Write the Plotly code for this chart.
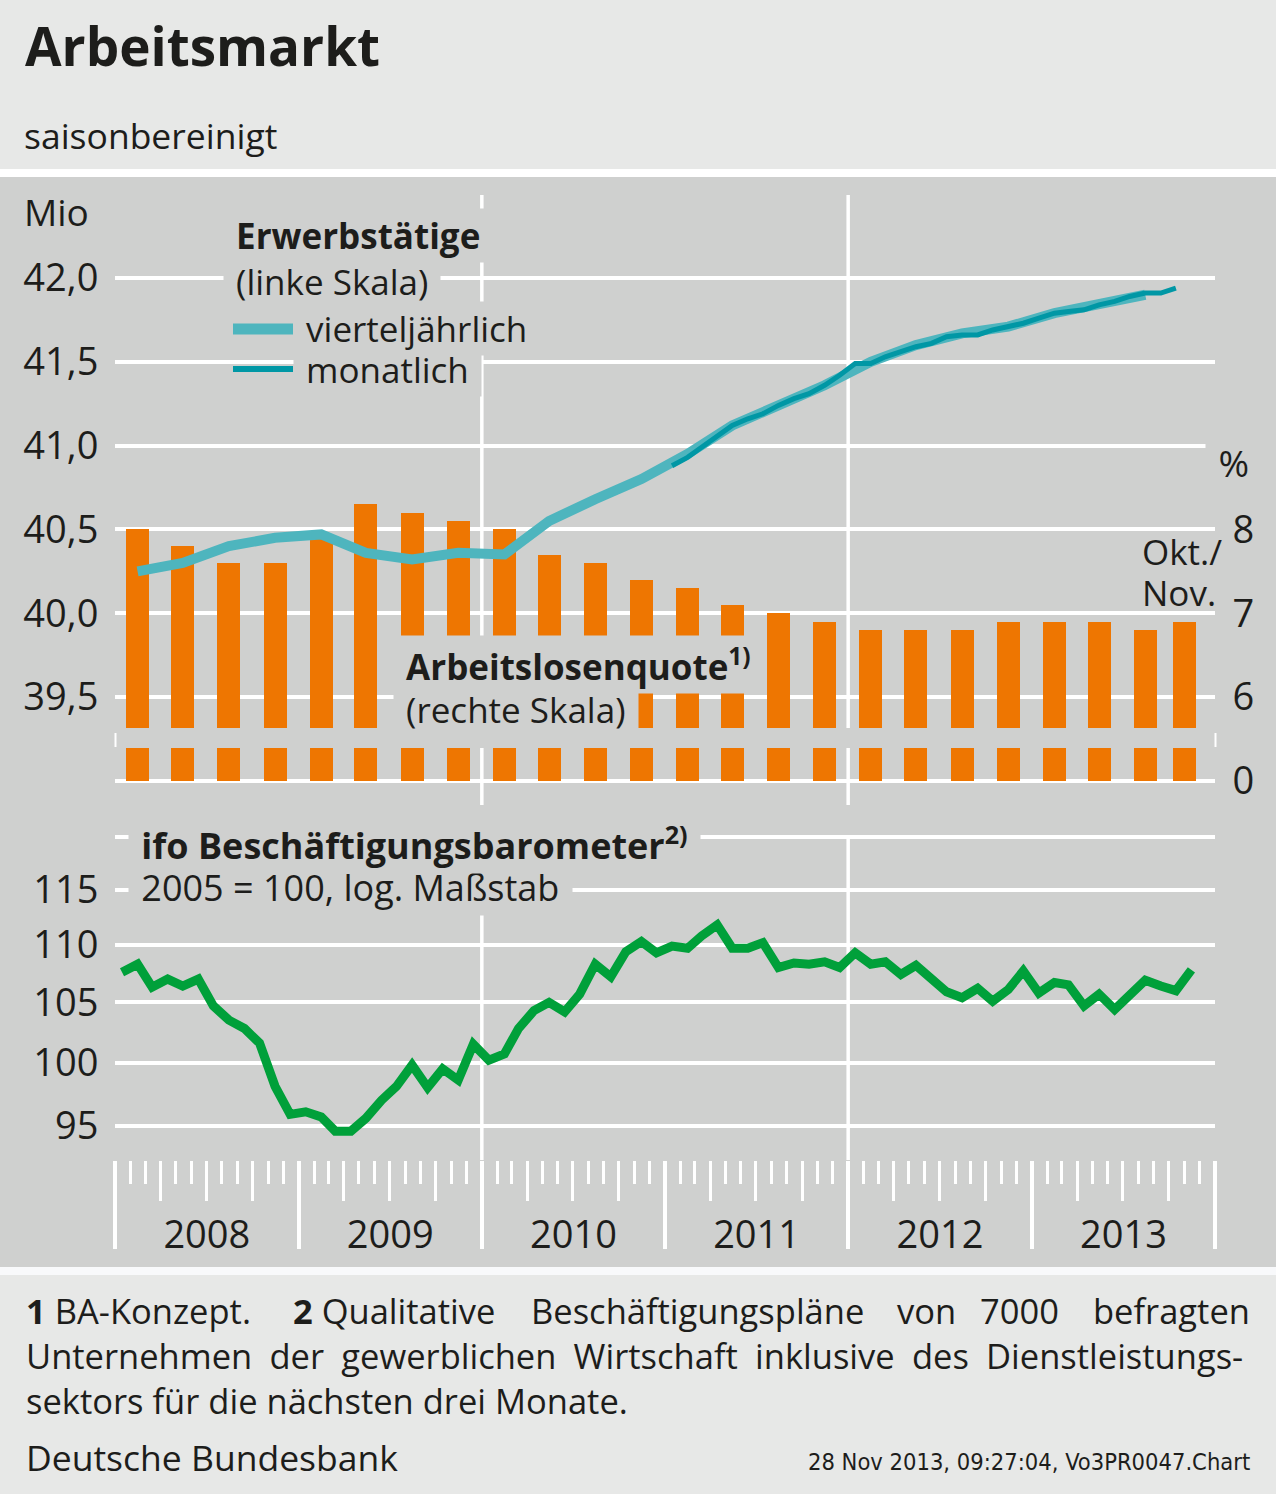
import math
import plotly.graph_objects as go

W, H = 1276, 1494
FONT = "Open Sans, Noto Sans, DejaVu Sans, sans-serif"
NARROW = "Liberation Sans Narrow, DejaVu Sans Condensed, Open Sans, sans-serif"
TXT = "#1d1d1b"
PANEL = "#cfd0cf"
HEAD = "#e7e8e7"
ORANGE = "#ee7601"
TEAL_Q = "#4eb5be"
TEAL_M = "#0097a5"
GREEN = "#00a03a"

def fx(p):
    return p / W

def fy(p):
    return 1 - p / H

# ---------------- data ----------------
quarter_dates = [f"{y}-{m:02d}-15" for y in range(2008, 2014) for m in (2, 5, 8, 11)][:23]
bar_dates = quarter_dates + ["2013-11-01"]          # last bar: Okt./Nov. 2013
alq = [8.0, 7.8, 7.6, 7.6, 7.9, 8.3, 8.2, 8.1,
       8.0, 7.7, 7.6, 7.4, 7.3, 7.1, 7.0, 6.9,
       6.8, 6.8, 6.8, 6.9, 6.9, 6.9, 6.8, 6.9]     # Arbeitslosenquote, %

erw_q = [40.25, 40.30, 40.40, 40.45, 40.47, 40.36, 40.32, 40.36,
         40.35, 40.55, 40.68, 40.80, 40.95, 41.12, 41.24, 41.36,
         41.50, 41.60, 41.67, 41.71, 41.79, 41.84, 41.90]   # Mio, quarterly

erw_m_dates = [f"{y}-{m:02d}-15" for y in range(2011, 2014) for m in range(1, 13)][:34]
erw_m = [40.88, 40.93, 40.99, 41.06, 41.12, 41.16, 41.19, 41.24, 41.28, 41.31, 41.36, 41.42,
         41.49, 41.49, 41.53, 41.56, 41.59, 41.61, 41.65, 41.66, 41.66, 41.69, 41.71, 41.73,
         41.76, 41.79, 41.80, 41.81, 41.84, 41.86, 41.89, 41.91, 41.91, 41.94]

ifo_dates = [f"{y}-{m:02d}-15" for y in range(2008, 2014) for m in range(1, 13)][:71]
ifo = [107.6, 108.3, 106.3, 107.0, 106.4, 107.0, 104.7, 103.5, 102.8, 101.6, 98.1, 95.9,
       96.1, 95.7, 94.6, 94.6, 95.6, 97.0, 98.1, 99.8, 98.0, 99.5, 98.6, 101.5,
       100.2, 100.7, 102.8, 104.3, 105.0, 104.2, 105.7, 108.3, 107.2, 109.4, 110.3, 109.3,
       109.9, 109.7, 110.8, 111.8, 109.7, 109.7, 110.2, 108.0, 108.4, 108.3, 108.5, 108.0,
       109.3, 108.3, 108.5, 107.4, 108.2, 107.0, 105.9, 105.4, 106.2, 105.1, 106.1, 107.7,
       105.8, 106.7, 106.5, 104.7, 105.7, 104.4, 105.7, 106.9, 106.4, 106.0, 107.8]

erw_ticks = [39.0, 39.5, 40.0, 40.5, 41.0, 41.5, 42.0]
erw_ticktext = ["", "39,5", "40,0", "40,5", "41,0", "41,5", "42,0"]
alq_ticks = [0, 6, 7, 8]
ALQ_BREAK = 5            # axis break: values >= 6 are shown shifted down by 5
ifo_ticks = [95, 100, 105, 110, 115, 120]
ifo_ticktext = ["95", "100", "105", "110", "115", ""]
vlines = ["2010-01-01", "2012-01-01"]

alq_disp = [v - ALQ_BREAK for v in alq]
alq_tickvals = [t - ALQ_BREAK if t else 0 for t in alq_ticks]

X_RANGE = ["2008-01-01", "2014-01-01"]
X_DOM = [fx(115), fx(1215)]
DAY_MS = 86400000
BAR_W = 45.8 * DAY_MS

fig = go.Figure()

fig.add_trace(go.Bar(x=bar_dates, y=alq_disp, base=0, width=BAR_W,
                     marker=dict(color=ORANGE, line=dict(width=0)),
                     xaxis="x", yaxis="y", showlegend=False, hoverinfo="skip"))
fig.add_trace(go.Scatter(x=quarter_dates, y=erw_q, mode="lines",
                         line=dict(color=TEAL_Q, width=10),
                         xaxis="x", yaxis="y2", showlegend=False, hoverinfo="skip"))
fig.add_trace(go.Scatter(x=erw_m_dates, y=erw_m, mode="lines",
                         line=dict(color=TEAL_M, width=5),
                         xaxis="x", yaxis="y2", showlegend=False, hoverinfo="skip"))
fig.add_trace(go.Scatter(x=ifo_dates, y=ifo, mode="lines",
                         line=dict(color=GREEN, width=9),
                         xaxis="x3", yaxis="y3", showlegend=False, hoverinfo="skip"))
for xa in ("x4", "x5"):
    fig.add_trace(go.Scatter(x=[], y=[], xaxis=xa, yaxis="y3", showlegend=False, hoverinfo="skip"))

tickfont = dict(family=FONT, size=38, color=TXT)
noline = dict(showline=False, zeroline=False)

UP_TOP, UP_BOT = 195, 805
px_per_mio = 167.6
y_40 = 613.2
erw_range = [40 - (UP_BOT - y_40) / px_per_mio, 40 + (y_40 - UP_TOP) / px_per_mio]
alq_range = [2 * (erw_range[0] - 39.5) + 1, 2 * (erw_range[1] - 39.5) + 1]

LO_TOP, LO_BOT = 815, 1160
px_per_log10 = 2844.2
l115 = math.log10(115)
ifo_range = [l115 - (LO_BOT - 890) / px_per_log10, l115 + (890 - LO_TOP) / px_per_log10]

fig.update_layout(
    width=W, height=H, margin=dict(l=0, r=0, t=0, b=0),
    paper_bgcolor=HEAD, plot_bgcolor="rgba(0,0,0,0)",
    separators=",.", font=dict(family=FONT, color=TXT),
    bargap=0,
    xaxis=dict(domain=X_DOM, range=X_RANGE, type="date", anchor="y",
               showticklabels=False, ticks="", showgrid=False, **noline),
    yaxis=dict(domain=[fy(UP_BOT), fy(UP_TOP)], range=alq_range, anchor="x", side="right",
               tickvals=alq_tickvals, ticktext=[str(t) for t in alq_ticks],
               showgrid=False, ticks="outside", ticklen=9, tickcolor="rgba(0,0,0,0)",
               tickfont=tickfont, **noline),
    yaxis2=dict(overlaying="y", anchor="x", side="left", range=erw_range,
                tickvals=erw_ticks, ticktext=erw_ticktext,
                showgrid=True, gridcolor="white", gridwidth=4,
                ticks="outside", ticklen=8, tickcolor="rgba(0,0,0,0)",
                tickfont=tickfont, **noline),
    xaxis3=dict(domain=X_DOM, range=X_RANGE, type="date", anchor="y3",
                showticklabels=False, showgrid=False,
                ticks="outside", ticklen=88, tickwidth=4, tickcolor="white",
                tick0="2008-01-01", dtick="M12",
                minor=dict(ticks="outside", ticklen=23, tickwidth=3, tickcolor="white",
                           tick0="2008-01-01", dtick="M1", showgrid=False),
                **noline),
    xaxis4=dict(overlaying="x3", anchor="y3", range=X_RANGE, type="date",
                showticklabels=False, showgrid=False,
                ticks="outside", ticklen=40, tickwidth=3, tickcolor="white",
                tick0="2008-01-01", dtick="M3", **noline),
    xaxis5=dict(overlaying="x3", anchor="free", position=fy(1209), range=X_RANGE, type="date",
                showgrid=False, ticks="", tick0="2008-01-01", dtick="M12",
                tickformat="%Y", ticklabelmode="period", tickfont=tickfont, **noline),
    yaxis3=dict(domain=[fy(LO_BOT), fy(LO_TOP)], type="log", range=ifo_range, anchor="x3",
                tickvals=ifo_ticks, ticktext=ifo_ticktext,
                showgrid=True, gridcolor="white", gridwidth=4,
                ticks="outside", ticklen=8, tickcolor="rgba(0,0,0,0)",
                tickfont=tickfont, **noline),
)

shapes = [
    dict(type="rect", xref="paper", yref="paper", x0=0, x1=1, y0=fy(1267), y1=fy(177),
         fillcolor=PANEL, line=dict(width=0), layer="below"),
    dict(type="rect", xref="paper", yref="paper", x0=0, x1=1, y0=fy(177), y1=fy(169),
         fillcolor="white", line=dict(width=0), layer="below"),
    dict(type="rect", xref="paper", yref="paper", x0=0, x1=1, y0=fy(1275), y1=fy(1267),
         fillcolor="#f8f9fb", line=dict(width=0), layer="below"),
]
for d in vlines:
    shapes.append(dict(type="line", xref="x", yref="paper", x0=d, x1=d, y0=fy(UP_BOT), y1=fy(UP_TOP),
                       line=dict(color="white", width=3.5), layer="below"))
    shapes.append(dict(type="line", xref="x3", yref="paper", x0=d, x1=d, y0=fy(LO_BOT), y1=fy(837),
                       line=dict(color="white", width=3.5), layer="below"))
shapes.append(dict(type="rect", xref="paper", yref="y", x0=fx(113), x1=fx(1218), y0=0.39, y1=0.63,
                   fillcolor=PANEL, line=dict(width=0), layer="above"))
for xb in (115.5, 1215.5):
    shapes.append(dict(type="line", xref="paper", yref="paper", x0=fx(xb), x1=fx(xb),
                       y0=fy(747), y1=fy(733), line=dict(color="white", width=2), layer="above"))
shapes.append(dict(type="line", xref="paper", yref="paper", x0=fx(233), x1=fx(293), y0=fy(329), y1=fy(329),
                   line=dict(color=TEAL_Q, width=11), layer="above"))
shapes.append(dict(type="line", xref="paper", yref="paper", x0=fx(233), x1=fx(293), y0=fy(369), y1=fy(369),
                   line=dict(color=TEAL_M, width=6), layer="above"))
fig.update_layout(shapes=shapes)

PAD = 3

def ann(text, x, yc, size=35, bold=False, bg=None, anchor="left", family=FONT):
    t = f"<b>{text}</b>" if bold else text
    d = dict(xref="paper", yref="paper", xanchor=anchor, yanchor="middle",
             y=fy(yc), showarrow=False,
             font=dict(family=family, size=size, color=TXT), align="left")
    if bg:
        sp = 0.26 * size
        d.update(text="&nbsp;" + t + "&nbsp;", x=fx(x - PAD - sp), bgcolor=bg, borderpad=PAD)
    else:
        d.update(text=t, x=fx(x))
    return d

JSP = "\u2002"   # widened word gap to imitate justified text
line2 = "Unternehmen der gewerblichen Wirtschaft inklusive des Dienstleistungs-".replace(" ", JSP)

annotations = [
    ann("Arbeitsmarkt", 23, 45, size=53, bold=True),
    ann("saisonbereinigt", 22, 135, size=35.5),
    ann("Mio", 22, 212, size=37),
    # legend block: drawn bottom-up so upper boxes do not clip the text above
    ann("monatlich", 305, 370, bg=PANEL),
    ann("vierteljährlich", 305, 329, bg=PANEL),
    ann("(linke Skala)", 235, 281, bg=PANEL),
    ann("Erwerbstätige", 235, 236, bold=True, bg=PANEL),
    ann("%", 1218, 462, size=37, bg=PANEL),
    ann("Okt./", 1140, 552),
    ann("Nov.", 1140, 592),
    ann("(rechte Skala)", 405, 709, bg=PANEL),
    ann("Arbeitslosenquote<sup>1)</sup>", 405, 664, bold=True, bg=PANEL),
    ann("2005 = 100, log. Maßstab", 140, 888, size=36, bg=PANEL),
    ann("ifo Beschäftigungsbarometer<sup>2)</sup>", 140, 843, size=36, bold=True, bg=PANEL),
    # footnotes
    ann("<b>1</b> BA-Konzept.", 24, 1310, size=34.5),
    ann("<b>2</b> Qualitative", 291, 1310, size=34.5),
    ann("Beschäftigungspläne", 529, 1310, size=34.5),
    ann("von", 895, 1310, size=34.5),
    ann("7000", 978, 1310, size=34.5),
    ann("befragten", 1252, 1310, size=34.5, anchor="right"),
    ann(line2, 24, 1355, size=34.5),
    ann("sektors für die nächsten drei Monate.", 24, 1400, size=34.5),
    ann("Deutsche Bundesbank", 24, 1457, size=35.5),
    ann("28 Nov 2013, 09:27:04, Vo3PR0047.Chart", 1252, 1462, size=23.5, anchor="right", family=NARROW),
]
fig.update_layout(annotations=annotations)

fig.write_html("out.html", config={"displayModeBar": False},
               post_script="document.body.style.margin='0';document.body.style.overflow='hidden';")
